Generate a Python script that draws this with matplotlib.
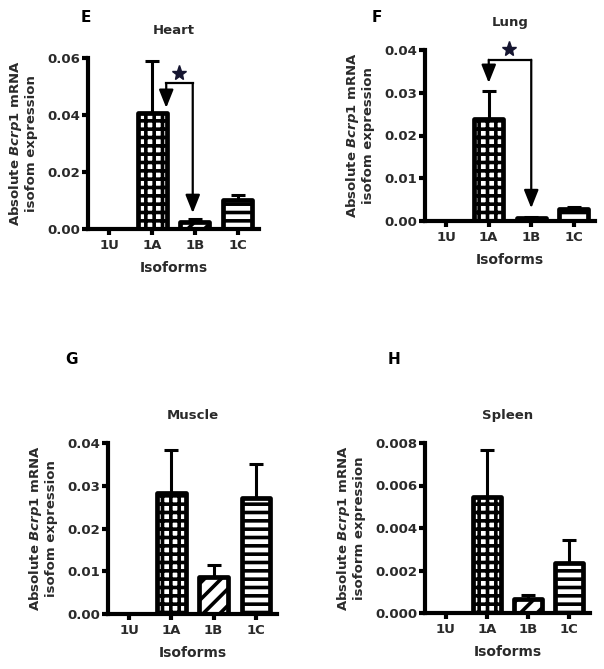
import matplotlib
matplotlib.use('Agg')
import matplotlib.pyplot as plt
from matplotlib.ticker import FormatStrFormatter

plt.rcParams['font.family'] = ['DejaVu Sans']
plt.rcParams['font.weight'] = 'bold'
plt.rcParams['hatch.linewidth'] = 2.6
plt.rcParams['hatch.color'] = 'black'
plt.rcParams['mathtext.fontset'] = 'dejavusans'

# ---------------- data ----------------
isoforms = ['1U', '1A', '1B', '1C']
hatches = ['', '++', '//', '--']

heart_mean = [0.0, 0.0406, 0.0025, 0.0100]
heart_err = [0.0, 0.0184, 0.0009, 0.0019]
lung_mean = [0.0, 0.0239, 0.0008, 0.0029]
lung_err = [0.0, 0.0065, 0.0002, 0.0003]
muscle_mean = [0.0, 0.0284, 0.0086, 0.0272]
muscle_err = [0.0, 0.0099, 0.0029, 0.0079]
spleen_mean = [0.0, 0.00544, 0.00066, 0.00233]
spleen_err = [0.0, 0.00224, 0.00020, 0.00109]

heart_ticks = [0.0, 0.02, 0.04, 0.06]
lung_ticks = [0.0, 0.01, 0.02, 0.03, 0.04]
muscle_ticks = [0.0, 0.01, 0.02, 0.03, 0.04]
spleen_ticks = [0.0, 0.002, 0.004, 0.006, 0.008]

# significance brackets: (x_from, tip_from, x_to, tip_to, bracket_y, star_x, star_y)
heart_sig = (1.33, 0.0425, 1.95, 0.0056, 0.0512, 1.64, 0.0548)
lung_sig = (1.0, 0.0323, 2.0, 0.0030, 0.0377, 1.48, 0.0403)

W, H = 604, 669
fig = plt.figure(figsize=(W / 100, H / 100), dpi=100)
TXT = '#2a2a2a'


def make_axes(l, r, b, t):
    return fig.add_axes([l / W, (H - b) / H, (r - l) / W, (b - t) / H])


def draw_panel(ax, title, mean, err, ticks, fmt, ylabel_text):
    x = list(range(len(isoforms)))
    for i in x:
        if err[i] > 0:
            ax.errorbar([i], [mean[i]], yerr=[[0], [err[i]]], fmt='none',
                        ecolor='black', elinewidth=2.2, capsize=5, capthick=2.2,
                        zorder=2)
    for i in x:
        if mean[i] > 0:
            ax.bar(i, mean[i], width=0.68, facecolor='white', edgecolor='black',
                   linewidth=3.4, hatch=hatches[i], joinstyle='round', zorder=3)
    ax.set_xlim(-0.5, 3.5)
    ax.set_ylim(ticks[0], ticks[-1])
    ax.set_yticks(ticks)
    ax.yaxis.set_major_formatter(FormatStrFormatter(fmt))
    ax.set_xticks(x)
    ax.set_xticklabels(isoforms)
    for s in ['top', 'right']:
        ax.spines[s].set_visible(False)
    for s in ['left', 'bottom']:
        ax.spines[s].set_linewidth(3)
        ax.spines[s].set_zorder(5)
    ax.tick_params(axis='both', width=3, length=4, labelsize=9.5,
                   labelcolor=TXT, pad=1.5)
    ax.tick_params(axis='x', pad=3)
    for lab in ax.get_xticklabels() + ax.get_yticklabels():
        lab.set_fontweight('bold')
    ax.set_title(title, fontsize=9.5, fontweight='bold', color=TXT, pad=17)
    ax.set_xlabel('Isoforms', fontsize=10, fontweight='bold', color=TXT,
                  labelpad=7)
    ax.set_ylabel(ylabel_text, fontsize=9.5, fontweight='bold', color=TXT,
                  labelpad=7, linespacing=1.05)


def draw_sig(ax, sig):
    x1, t1, x2, t2, yb, xs, ys = sig
    ax.plot([x1, x2], [yb, yb], color='black', lw=1.6, solid_capstyle='projecting',
            zorder=6, clip_on=False)
    for xx, tt in [(x1, t1), (x2, t2)]:
        ax.annotate('', xy=(xx, tt), xytext=(xx, yb),
                    arrowprops=dict(arrowstyle='-|>,head_length=0.55,head_width=0.22',
                                    mutation_scale=20, lw=1.6, color='black',
                                    shrinkA=0, shrinkB=0),
                    annotation_clip=False, zorder=6)
    ax.plot([xs], [ys], marker='*', markersize=11, color='#151530',
            clip_on=False, zorder=6)


yl_a = 'Absolute $\\boldsymbol{\\mathit{Bcrp1}}$ mRNA\nisofom expression'
yl_b = 'Absolute $\\boldsymbol{\\mathit{Bcrp1}}$ mRNA\nisoform expression'

axE = make_axes(88, 259, 229, 58)
draw_panel(axE, 'Heart', heart_mean, heart_err, heart_ticks, '%.2f', yl_a)
draw_sig(axE, heart_sig)

axF = make_axes(425, 595, 221, 50)
draw_panel(axF, 'Lung', lung_mean, lung_err, lung_ticks, '%.2f', yl_a)
draw_sig(axF, lung_sig)

axG = make_axes(108, 277, 614, 443)
draw_panel(axG, 'Muscle', muscle_mean, muscle_err, muscle_ticks, '%.2f', yl_a)

axH = make_axes(425, 590, 613, 443)
draw_panel(axH, 'Spleen', spleen_mean, spleen_err, spleen_ticks, '%.3f', yl_b)

for letter, px, py in [('E', 86, 17), ('F', 377, 17), ('G', 72, 360), ('H', 394, 360)]:
    fig.text(px / W, 1 - py / H, letter, fontsize=11, fontweight='bold',
             color='black', ha='center', va='center')

fig.savefig('out.png', dpi=100, facecolor='white')
